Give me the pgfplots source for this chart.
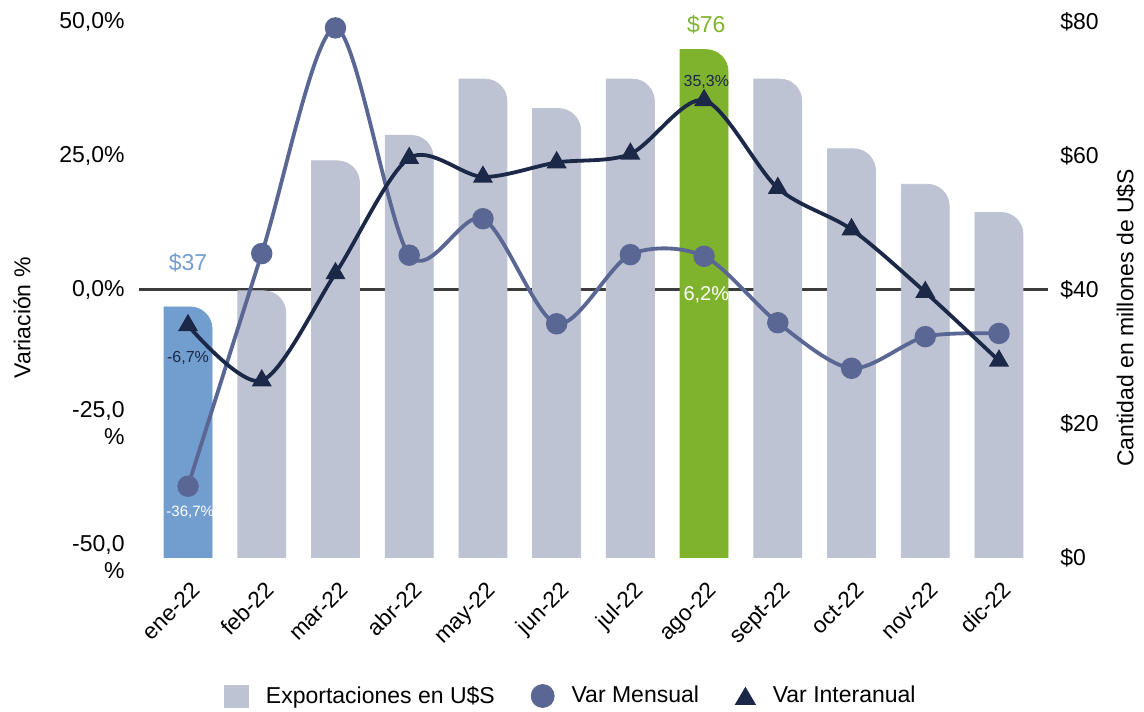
\documentclass[border=0pt]{standalone}
\usepackage{fontspec}
\setmainfont{Liberation Sans}
\usepackage{pgfplots}
\pgfplotsset{compat=1.18}
\usepackage{pgfplotstable}

\definecolor{barGray}{RGB}{189,195,210}
\definecolor{barBlue}{RGB}{114,157,207}
\definecolor{barGreen}{RGB}{127,179,46}
\definecolor{mensual}{RGB}{90,103,148}
\definecolor{inter}{RGB}{27,40,72}
\definecolor{zeroline}{RGB}{60,60,60}

\pgfdeclareplotmark{nomark}{}
\newcommand{\ppd}{3.35}% pt per unit of $ (268pt / 80)

\pgfplotsset{
  rbar/.style={
    scatter, only marks, mark=nomark, forget plot,
    visualization depends on={rawy \as \rawy},
    scatter/@pre marker code/.code={%
      \pgfmathsetmacro{\bh}{\rawy*\ppd}%
      \fill[#1] (-12pt,-\bh pt) -- (-12pt,0pt) -- (1pt,0pt) arc[start angle=90,end angle=0,radius=11pt] -- (12pt,-\bh pt) -- cycle;
    },
    scatter/@post marker code/.code={},
  },
  base/.style={
    scale only axis, width=454.5pt, height=268pt,
    at={(69.5pt,76.75pt)}, anchor=south west,
    xmin=-0.665, xmax=11.665,
    major tick length=0pt,
    axis line style={draw=none},
    tick label style={font=\fontsize{11.5}{13.5}\selectfont},
    clip=false,
  },
}

\pgfplotstableread{
x v
1 39.8
2 59.2
3 63.0
4 71.4
5 67.0
6 71.4
8 71.4
9 61.0
10 55.7
11 51.5
}\expgray
\pgfplotstableread{
x v
0 37.4
}\expblue
\pgfplotstableread{
x v
7 75.8
}\expgreen
\pgfplotstableread{
x v
0 -36.7
1 6.7
2 48.8
3 6.4
4 13.2
5 -6.4
6 6.5
7 6.2
8 -6.2
9 -14.7
10 -8.8
11 -8.2
}\mensualdata
\pgfplotstableread{
x v
0 -6.7
1 -17.0
2 3.0
3 24.5
4 21.0
5 23.7
6 25.3
7 35.3
8 18.9
9 11.2
10 -0.5
11 -13.3
}\interdata

\begin{document}
\begin{tikzpicture}
\useasboundingbox (0,0) rectangle (572pt,355.5pt);
% right axis: exports in millions of U$S
\begin{axis}[base,
  ymin=0, ymax=80,
  axis y line*=right, axis x line=none,
  ytick={0,20,40,60,80},
  yticklabels={\$0,\$20,\$40,\$60,\$80},
  yticklabel style={inner sep=0pt, xshift=6pt, anchor=west},
  every axis y label/.style={at={(axis description cs:1.0853,0.447)}, rotate=90, anchor=center, font=\fontsize{11.5}{13.5}\selectfont},
  ylabel={Cantidad en millones de U\$S},
]
\addplot[zeroline, line width=1.3pt, forget plot] coordinates {(-0.665,40) (11.665,40)};
\addplot[rbar=barGray] table[x=x,y=v] {\expgray};
\addplot[rbar=barBlue] table[x=x,y=v] {\expblue};
\addplot[rbar=barGreen] table[x=x,y=v] {\expgreen};
\node[text=barBlue, font=\fontsize{11.5}{13.5}\selectfont] at (axis cs:0,44) {\$37};
\node[text=barGreen, font=\fontsize{11.5}{13.5}\selectfont] at (axis cs:7.03,79.5) {\$76};
\end{axis}
% left axis: variation in %
\begin{axis}[base,
  ymin=-50, ymax=50,
  axis x line*=bottom, axis y line*=left,
  xtick={0,...,11},
  xticklabels={ene-22,feb-22,mar-22,abr-22,may-22,jun-22,jul-22,ago-22,sept-22,oct-22,nov-22,dic-22},
  xticklabel style={xshift=7pt, yshift=-16.75pt, rotate=45, anchor=base east, inner sep=0pt, font=\fontsize{11.3}{13}\selectfont},
  ytick={-50,-25,0,25,50},
  yticklabels={{-50,0\\\%},{-25,0\\\%},{0,0\%},{25,0\%},{50,0\%}},
  yticklabel style={inner sep=0pt, xshift=-7pt, anchor=east, align=right},
  every axis y label/.style={at={(axis description cs:-0.1287,0.447)}, rotate=90, anchor=center, font=\fontsize{11.5}{13.5}\selectfont},
  ylabel={Variación \%},
  legend columns=-1,
  legend cell align=left,
  legend style={
    at={(axis description cs:0.474,-0.2584)}, anchor=center,
    draw=none, fill=none, inner sep=0pt,
    font=\fontsize{11.5}{13.5}\selectfont,
    nodes={inner sep=0pt},
    /tikz/every odd column/.append style={column sep=8.5pt},
    /tikz/every even column/.append style={column sep=18pt},
  },
]
\addlegendimage{legend image code/.code={\fill[barGray] (0pt,-5.5pt) rectangle (12pt,5.5pt);}}
\addlegendentry{Exportaciones en U\$S}
\addlegendimage{legend image code/.code={\fill[mensual] (5.75pt,0pt) circle[radius=5.75pt];}}
\addlegendentry{Var Mensual}
\addlegendimage{legend image code/.code={\fill[inter] (0pt,-4.25pt) -- (10pt,-4.25pt) -- (5pt,4.25pt) -- cycle;}}
\addlegendentry{Var Interanual}
\addplot[mensual, line width=1.9pt, smooth, mark=*, mark size=4.4pt, mark options={fill=mensual, draw=none}, forget plot] table[x=x,y=v] {\mensualdata};
\addplot[inter, line width=1.9pt, smooth, mark=triangle*, mark size=3.9pt, mark options={fill=inter, draw=none}, forget plot] table[x=x,y=v] {\interdata};
\node[text=inter, font=\fontsize{8}{9}\selectfont] at (axis cs:0,-12.8) {-6,7\%};
\node[text=white, font=\fontsize{7.5}{9}\selectfont] at (axis cs:0.03,-41.5) {-36,7\%};
\node[text=inter, font=\fontsize{8}{9}\selectfont] at (axis cs:7.03,38.7) {35,3\%};
\node[text=white, font=\fontsize{10}{12}\selectfont] at (axis cs:7.03,-1.0) {6,2\%};
\end{axis}
\end{tikzpicture}
\end{document}
